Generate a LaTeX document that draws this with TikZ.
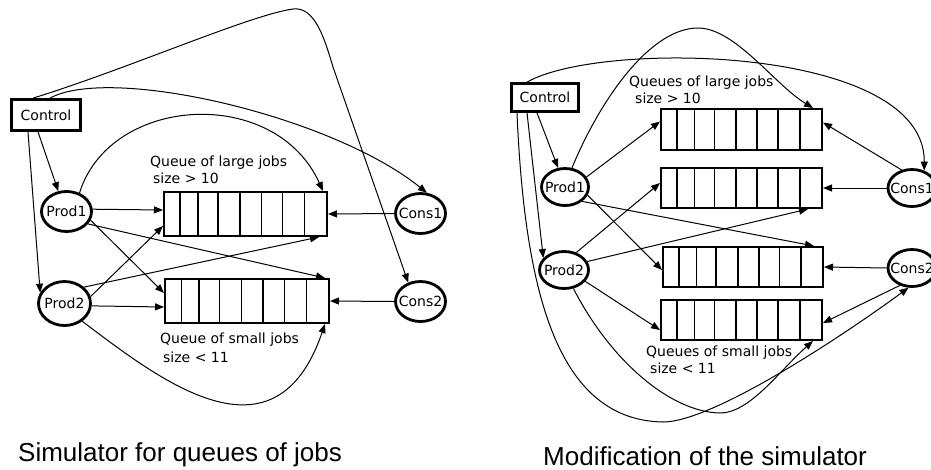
\documentclass[tikz,border=0pt]{standalone}
\usepackage{fontspec}
\newfontfamily\dvfont{DejaVu Sans}
\newfontfamily\lsfont{Liberation Sans}
\usetikzlibrary{arrows.meta,calc,shapes.geometric}
\newcommand\qcells[1]{%
  \foreach \f in {0.105,0.212,0.335,0.467,0.597,0.725,0.858}
    \draw[divline] ($(#1.north west)!\f!(#1.north east)$) -- ($(#1.south west)!\f!(#1.south east)$);}
\begin{document}
\begin{tikzpicture}[x=1pt,y=-1pt,
  lbl/.style={font=\dvfont\fontsize{14}{16}\selectfont, inner sep=0pt, anchor=base west},
  boxnode/.style={draw, line width=2.7pt, inner sep=0pt, font=\dvfont\fontsize{14}{16}\selectfont},
  ellnode/.style={draw, ellipse, line width=2.8pt, inner sep=0pt, font=\dvfont\fontsize{14}{16}\selectfont},
  qnode/.style={draw, line width=2pt, inner sep=0pt},
  divline/.style={line width=1.7pt},
  conn/.style={line width=1pt, -{Triangle[length=9pt,width=7pt]}},
  ttl/.style={font=\lsfont\fontsize{26}{30}\selectfont, inner sep=0pt, anchor=base west},
]
\useasboundingbox (0,0) rectangle (931,469);

% ---------------- left diagram ----------------
\node[boxnode, minimum width=69pt, minimum height=31pt] (ctrlL) at (46,115) {Control};
\node[ellnode, minimum width=50pt, minimum height=40pt] (p1L) at (66.5,211.5) {\makebox[0pt]{Prod1}};
\node[ellnode, minimum width=52pt, minimum height=44pt] (p2L) at (64.5,303.5) {\makebox[0pt]{Prod2}};
\node[ellnode, minimum width=50pt, minimum height=40pt] (c1L) at (420.5,213.5) {\makebox[0pt]{Cons1}};
\node[ellnode, minimum width=50pt, minimum height=40pt] (c2L) at (420.5,301.5) {\makebox[0pt]{Cons2}};
\node[qnode, minimum width=163pt, minimum height=44pt] (qL1) at (245.5,214) {};
\node[qnode, minimum width=164pt, minimum height=44pt] (qL2) at (247,301) {};
\qcells{qL1}
\qcells{qL2}

\node[lbl] (lqa) at (150,166) {Queue of large jobs};
\node[lbl] (lqb) at (153,183) {size > 10};
\node[lbl] (lqc) at (160,343) {Queue of small jobs};
\node[lbl] (lqd) at (163,362) {size < 11};

\draw[conn] ([xshift=-8pt]ctrlL.south) -- (p1L.112);
\draw[conn] ([xshift=-18pt]ctrlL.south) -- (p2L.156);
\draw[conn] ([xshift=-13pt]ctrlL.north) .. controls (130,68) and (250,15) .. (293,9)
   .. controls (315,6) and (325,40) .. (333,67) -- (c2L.123);
\draw[conn] ([xshift=4pt]ctrlL.north) .. controls (110,65) and (330,115) .. (c1L.73);
\draw[conn] (p1L.55) .. controls (110,95) and (275,85) .. ([xshift=-5pt]qL1.north east);
\draw[conn] (p1L.5) -- ([yshift=4pt]qL1.west);
\draw[conn] (p1L.-30) -- ([xshift=-5pt]qL2.north east);
\draw[conn] (p1L.-20) -- ([yshift=8pt]qL2.west);
\draw[conn] (p2L.15) -- ([yshift=-12pt]qL1.west);
\draw[conn] (p2L.40) -- ([xshift=-9pt]qL1.south east);
\draw[conn] (p2L.-5) -- ([yshift=-6pt]qL2.west);
\draw[conn] (p2L.-45) .. controls (160,380) and (275,470) .. ([xshift=-5pt]qL2.south east);
\draw[conn] (c1L.west) -- (qL1.east);
\draw[conn] (c2L.west) -- (qL2.east);

\node[ttl] (t1) at (18,461) {Simulator for queues of jobs};

% ---------------- right diagram ----------------
\node[boxnode, minimum width=67pt, minimum height=28pt] (ctrlR) at (545,97.5) {Control};
\node[ellnode, minimum width=47pt, minimum height=37pt] (p1R) at (565,187) {\makebox[0pt]{Prod1}};
\node[ellnode, minimum width=49pt, minimum height=37pt] (p2R) at (564,270) {\makebox[0pt]{Prod2}};
\node[ellnode, minimum width=48pt, minimum height=37pt] (c1R) at (912,188) {\makebox[0pt]{Cons1}};
\node[ellnode, minimum width=48pt, minimum height=37pt] (c2R) at (912,268) {\makebox[0pt]{Cons2}};
\node[qnode, minimum width=161pt, minimum height=41pt] (q1R) at (741.5,129.5) {};
\node[qnode, minimum width=161pt, minimum height=40pt] (q2R) at (741.5,188) {};
\node[qnode, minimum width=160pt, minimum height=40pt] (q3R) at (743,267) {};
\node[qnode, minimum width=161pt, minimum height=40pt] (q4R) at (741.5,320) {};
\qcells{q1R}
\qcells{q2R}
\qcells{q3R}
\qcells{q4R}

\node[lbl] (rqa) at (629,86) {Queues of large jobs};
\node[lbl] (rqb) at (635,103) {size > 10};
\node[lbl] (rqc) at (646,356) {Queues of small jobs};
\node[lbl] (rqd) at (650,373) {size < 11};

\draw[conn] ([xshift=-8pt]ctrlR.south) -- (p1R.110);
\draw[conn] ([xshift=-18pt]ctrlR.south) -- (p2R.150);
\draw[conn] ([xshift=-28pt]ctrlR.south) .. controls (525,300) and (560,420) .. (663,422)
   .. controls (710,422) and (830,345) .. (c2R.-100);
\draw[conn] ([xshift=-18pt]ctrlR.north) .. controls (600,40) and (925,45) .. (c1R.55);
\draw[conn] (p1R.70) .. controls (600,100) and (650,28) .. (698,28)
   .. controls (735,28) and (775,85) .. ([xshift=-10pt]q1R.north east);
\draw[conn] (p1R.25) -- ([yshift=8pt]q1R.west);
\draw[conn] (p1R.-40) -- ([xshift=-10pt]q3R.north east);
\draw[conn] (p1R.-20) -- ([yshift=-3pt]q3R.west);
\draw[conn] (p2R.55) -- ([yshift=5pt]q2R.west);
\draw[conn] (p2R.20) -- ([xshift=-15pt]q2R.south east);
\draw[conn] (p2R.-28) -- ([yshift=-10pt]q4R.west);
\draw[conn] (p2R.-63) .. controls (610,360) and (670,412) .. (720,413)
   .. controls (750,413) and (780,370) .. ([xshift=-10pt]q4R.south east);
\draw[conn] (c1R.120) -- ([yshift=7pt]q1R.east);
\draw[conn] (c1R.west) -- (q2R.east);
\draw[conn] (c2R.west) -- (q3R.east);
\draw[conn] (c2R.-125) -- ([yshift=-3pt]q4R.east);

\node[ttl] (t2) at (543,465) {Modification of the simulator};
\end{tikzpicture}
\end{document}
